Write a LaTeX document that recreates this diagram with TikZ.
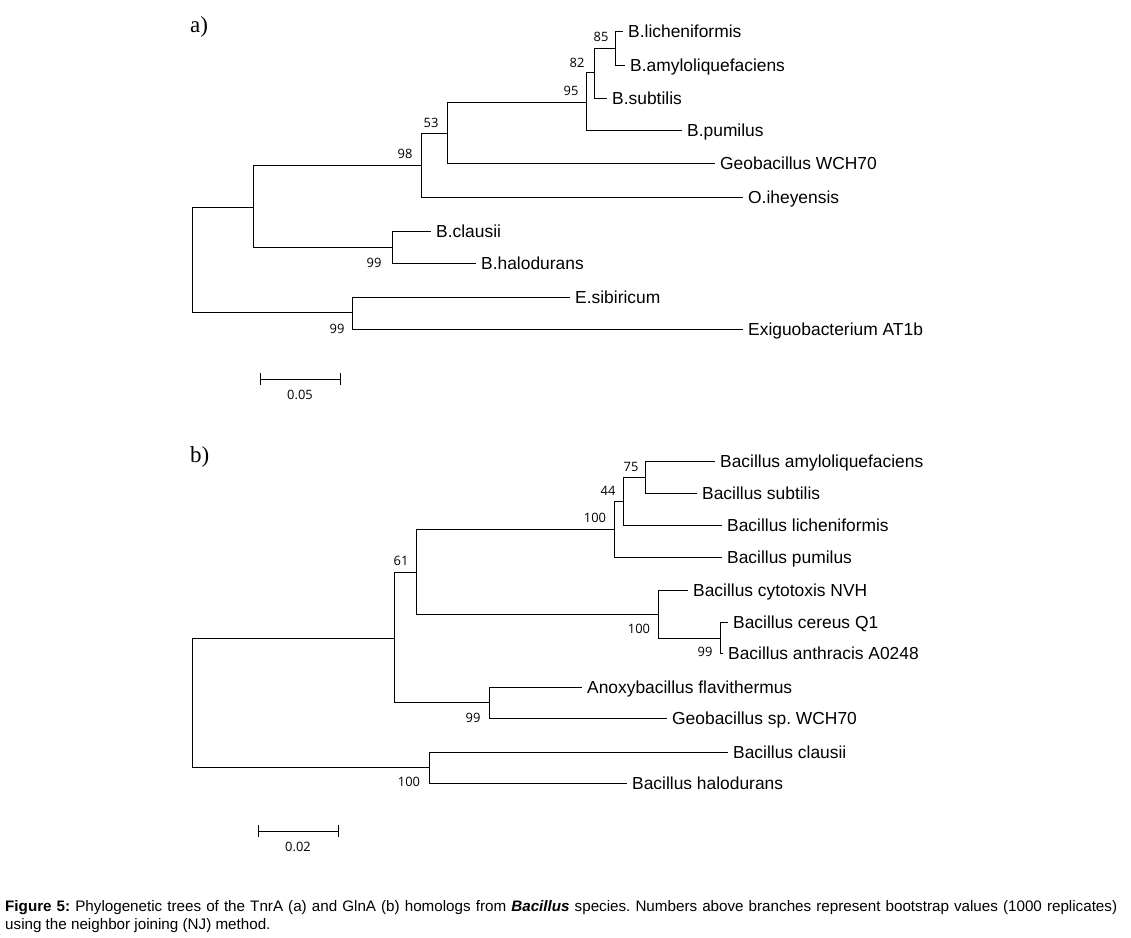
\documentclass[tikz,border=0pt]{standalone}
\usepackage{fontspec}
\setmainfont{Liberation Serif}
\newfontfamily\leaffont{Liberation Sans}
\newfontfamily\bootfont{Open Sans}
\newfontfamily\capfont{Liberation Sans}
\begin{document}
\frenchspacing
\begin{tikzpicture}[x=1pt,y=-1pt,
  br/.style={line width=0.9pt, draw=black},
  leaf/.style={anchor=west, inner xsep=5pt, inner ysep=0pt, text height=12.4pt, text depth=0pt, font=\leaffont\fontsize{17.4}{17.4}\selectfont},
  boot/.style={inner sep=0pt, text height=9.2pt, text depth=0pt, font=\bootfont\fontsize{12.9}{12.9}\selectfont},
  panel/.style={inner sep=0pt, anchor=base west, font=\fontsize{23}{23}\selectfont},
  capline/.style={inner sep=0pt, anchor=base west, font=\capfont\fontsize{15.2}{15.2}\selectfont},
]
\useasboundingbox (0,0) rectangle (1131,937);

% ---------------- panel a ----------------
\node[panel] (pa) at (190,32) {a)};

\coordinate (rootA) at (192,259.5);
\coordinate (nA1) at (253,207);
\coordinate (n98) at (421,165);
\coordinate (n53) at (447,133);
\coordinate (n95) at (586,102);
\coordinate (n82) at (594,72);
\coordinate (n85) at (615,48);
\coordinate (n99c) at (392,247);
\coordinate (n99e) at (352,312);

\node[leaf] (lich) at (623,31) {B.licheniformis};
\node[leaf] (amyl) at (625,65) {B.amyloliquefaciens};
\node[leaf] (subt) at (607,98) {B.subtilis};
\node[leaf] (pumi) at (682,130) {B.pumilus};
\node[leaf] (geoa) at (715,163) {Geobacillus WCH70};
\node[leaf] (ihey) at (743,197) {O.iheyensis};
\node[leaf] (clau) at (431,231) {B.clausii};
\node[leaf] (halo) at (476,263) {B.halodurans};
\node[leaf] (sibi) at (570,297) {E.sibiricum};
\node[leaf] (exig) at (743,329) {Exiguobacterium AT1b};

\draw[br] (rootA) |- (nA1);
\draw[br] (rootA) |- (n99e);
\draw[br] (nA1) |- (n98);
\draw[br] (nA1) |- (n99c);
\draw[br] (n98) |- (n53);
\draw[br] (n98) |- (ihey.west);
\draw[br] (n53) |- (n95);
\draw[br] (n53) |- (geoa.west);
\draw[br] (n95) |- (n82);
\draw[br] (n95) |- (pumi.west);
\draw[br] (n82) |- (n85);
\draw[br] (n82) |- (subt.west);
\draw[br] (n85) |- (lich.west);
\draw[br] (n85) |- (amyl.west);
\draw[br] (n99c) |- (clau.west);
\draw[br] (n99c) |- (halo.west);
\draw[br] (n99e) |- (sibi.west);
\draw[br] (n99e) |- (exig.west);

\node[boot] (b98) at (405,154) {98};
\node[boot] (b53) at (431,123) {53};
\node[boot] (b95) at (571,91) {95};
\node[boot] (b82) at (577,63) {82};
\node[boot] (b85) at (601,37) {85};
\node[boot] (b99c) at (374,263) {99};
\node[boot] (b99e) at (337,329) {99};

\coordinate (saL) at (260,379);
\coordinate (saR) at (340,379);
\draw[br] (saL) -- (saR);
\draw[br] ([yshift=-6pt]saL) -- ([yshift=6pt]saL);
\draw[br] ([yshift=-6pt]saR) -- ([yshift=6pt]saR);
\node[boot] (sal) at (300,395) {0.05};

% ---------------- panel b ----------------
\node[panel] (pb) at (190,462) {b)};

\coordinate (rootB) at (192,702.5);
\coordinate (n61) at (394,638);
\coordinate (nB1) at (416,572);
\coordinate (n100a) at (614,529);
\coordinate (n44) at (623,501);
\coordinate (n75) at (645,477);
\coordinate (n100c) at (658,614);
\coordinate (n99ca) at (720,638);
\coordinate (n99an) at (489,702);
\coordinate (n100cl) at (429,767.5);

\node[leaf] (bamy) at (715,461) {Bacillus amyloliquefaciens};
\node[leaf] (bsub) at (697,493) {Bacillus subtilis};
\node[leaf] (blic) at (722,525) {Bacillus licheniformis};
\node[leaf] (bpum) at (722,557) {Bacillus pumilus};
\node[leaf] (bcyt) at (688,590) {Bacillus cytotoxis NVH};
\node[leaf] (bcer) at (728,622) {Bacillus cereus Q1};
\node[leaf] (bant) at (723,653) {Bacillus anthracis A0248};
\node[leaf] (bano) at (582,687) {Anoxybacillus flavithermus};
\node[leaf] (bgeo) at (667,718) {Geobacillus sp. WCH70};
\node[leaf] (bcla) at (728,752) {Bacillus clausii};
\node[leaf] (bhal) at (627,783) {Bacillus halodurans};

\draw[br] (rootB) |- (n61);
\draw[br] (rootB) |- (n100cl);
\draw[br] (n61) |- (nB1);
\draw[br] (n61) |- (n99an);
\draw[br] (nB1) |- (n100a);
\draw[br] (nB1) |- (n100c);
\draw[br] (n100a) |- (n44);
\draw[br] (n100a) |- (bpum.west);
\draw[br] (n44) |- (n75);
\draw[br] (n44) |- (blic.west);
\draw[br] (n75) |- (bamy.west);
\draw[br] (n75) |- (bsub.west);
\draw[br] (n100c) |- (bcyt.west);
\draw[br] (n100c) |- (n99ca);
\draw[br] (n99ca) |- (bcer.west);
\draw[br] (n99ca) |- (bant.west);
\draw[br] (n99an) |- (bano.west);
\draw[br] (n99an) |- (bgeo.west);
\draw[br] (n100cl) |- (bcla.west);
\draw[br] (n100cl) |- (bhal.west);

\node[boot] (c75) at (631,467) {75};
\node[boot] (c44) at (608,491) {44};
\node[boot] (c100a) at (595,518) {100};
\node[boot] (c61) at (401,561) {61};
\node[boot] (c100c) at (639,629) {100};
\node[boot] (c99ca) at (705,652) {99};
\node[boot] (c99an) at (473,718) {99};
\node[boot] (c100cl) at (409,782) {100};

\coordinate (sbL) at (258,831);
\coordinate (sbR) at (338,831);
\draw[br] (sbL) -- (sbR);
\draw[br] ([yshift=-6pt]sbL) -- ([yshift=6pt]sbL);
\draw[br] ([yshift=-6pt]sbR) -- ([yshift=6pt]sbR);
\node[boot] (sbl) at (298,847) {0.02};

% ---------------- caption ----------------
\node[capline] (cap1) at (5,911) {\makebox[1112pt][s]{\textbf{Figure 5:} Phylogenetic trees of the TnrA (a) and GlnA (b) homologs from \textbf{\textit{Bacillus}} species. Numbers above branches represent bootstrap values (1000 replicates)}};
\node[capline] (cap2) at (5,929) {using the neighbor joining (NJ) method.};
\end{tikzpicture}
\end{document}
